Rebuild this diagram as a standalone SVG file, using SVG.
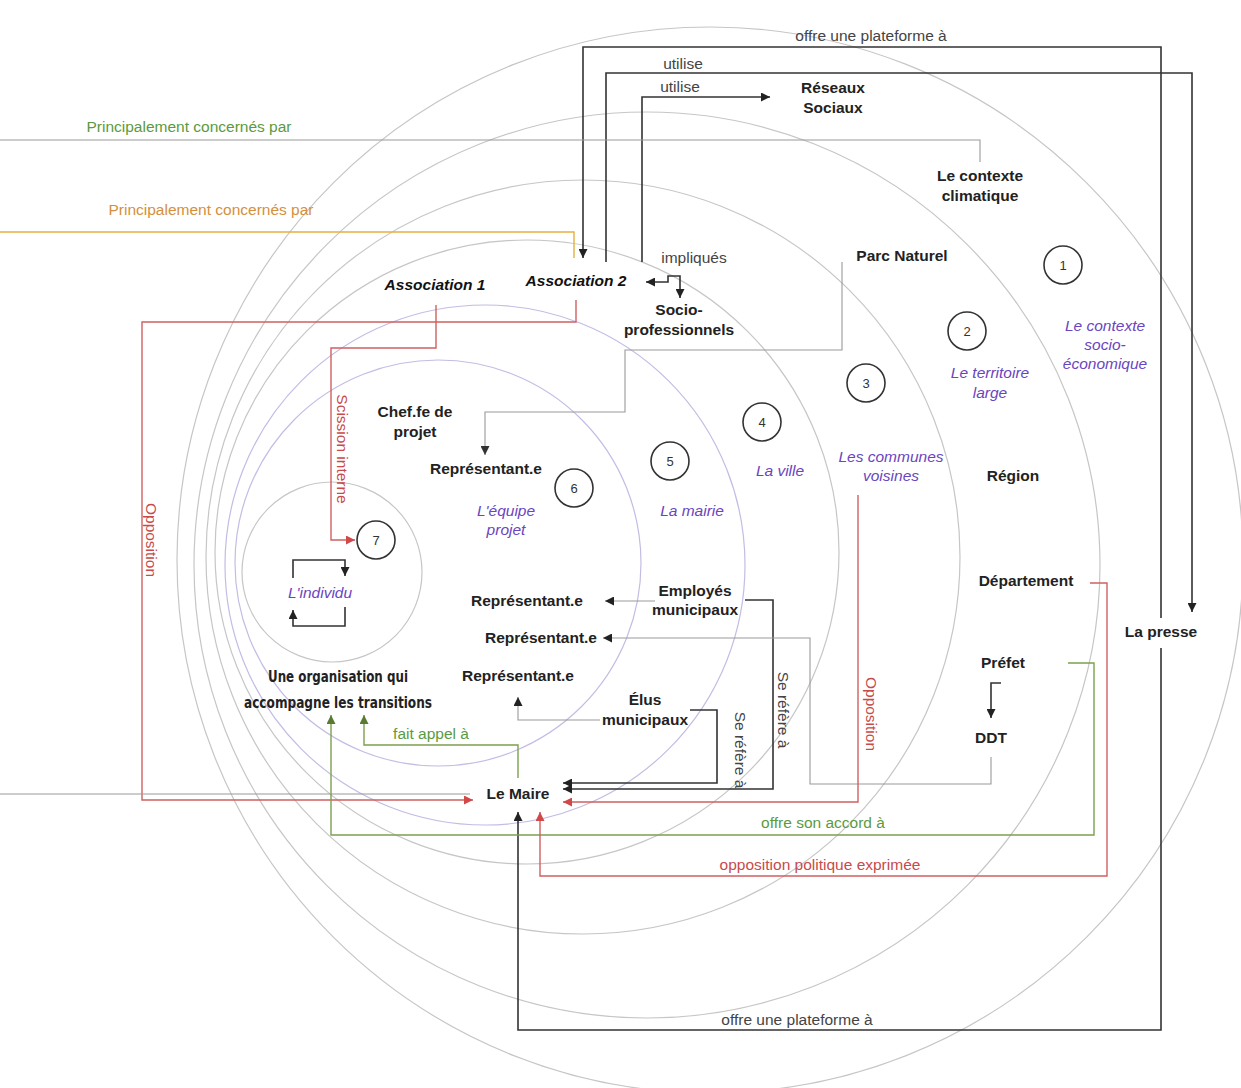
<svg xmlns="http://www.w3.org/2000/svg" width="1241" height="1088" viewBox="0 0 1241 1088">
<style>
  .ring{fill:none;stroke:#c6c6c6;stroke-width:1.2}
  .ringl{fill:none;stroke:#c4bce4;stroke-width:1.2}
  .num{fill:none;stroke:#333;stroke-width:1.6}
  .numt{font-family:"Liberation Sans",Arial,sans-serif;font-size:13px;fill:#333;text-anchor:middle}
  .node{font-family:"Liberation Sans",Arial,sans-serif;font-size:15.5px;font-weight:bold;fill:#222;text-anchor:middle}
  .asso{font-family:"Liberation Sans",Arial,sans-serif;font-size:15.5px;font-weight:bold;font-style:italic;fill:#111;text-anchor:middle}
  .ring-lbl{font-family:"Liberation Sans",Arial,sans-serif;font-size:15.5px;font-style:italic;fill:#6a45c0;text-anchor:middle}
  .lbl{font-family:"Liberation Sans",Arial,sans-serif;font-size:15.5px;fill:#444;text-anchor:middle}
  .lred{fill:#c84a4a}
  .lgreen{fill:#5b9a3e}
  .lorange{fill:#d4903c}
  .cond{font-family:"DejaVu Sans",sans-serif;font-size:15px;font-weight:bold;fill:#222;text-anchor:middle}
  .dark{fill:none;stroke:#333;stroke-width:1.6}
  .grey{fill:none;stroke:#9a9a9a;stroke-width:1.1}
  .red{fill:none;stroke:#d06060;stroke-width:1.4}
  .green{fill:none;stroke:#7da050;stroke-width:1.4}
  .orange{fill:none;stroke:#e6b040;stroke-width:1.4}
</style>
<defs>
  <marker id="ad" viewBox="0 0 10 10" refX="10" refY="5" markerWidth="9" markerHeight="9" markerUnits="userSpaceOnUse" orient="auto-start-reverse"><path d="M0,0 L10,5 L0,10 z" fill="#222"/></marker>
  <marker id="ag" viewBox="0 0 10 10" refX="10" refY="5" markerWidth="9" markerHeight="9" markerUnits="userSpaceOnUse" orient="auto"><path d="M0,0 L10,5 L0,10 z" fill="#333"/></marker>
  <marker id="ar" viewBox="0 0 10 10" refX="10" refY="5" markerWidth="9" markerHeight="9" markerUnits="userSpaceOnUse" orient="auto"><path d="M0,0 L10,5 L0,10 z" fill="#d04848"/></marker>
  <marker id="agr" viewBox="0 0 10 10" refX="10" refY="5" markerWidth="9" markerHeight="9" markerUnits="userSpaceOnUse" orient="auto"><path d="M0,0 L10,5 L0,10 z" fill="#5a7a30"/></marker>
</defs>
<rect width="1241" height="1088" fill="#ffffff"/>

<g id="rings">
  <circle class="ring" cx="710" cy="560" r="533"/>
  <circle class="ring" cx="647" cy="565" r="453"/>
  <circle class="ring" cx="583" cy="557" r="377"/>
  <circle class="ring" cx="527" cy="552" r="312"/>
  <circle class="ringl" cx="485" cy="565" r="260"/>
  <circle class="ringl" cx="438" cy="563" r="203"/>
  <circle class="ring" cx="332" cy="572" r="90"/>
</g>

<g id="connectors">
  <path class="dark" d="M1161,618 V47 H583 V258" marker-end="url(#ad)"/>
  <path class="dark" d="M1161,648 V1030 H518 V812" marker-end="url(#ad)"/>
  <path class="dark" d="M606,262 V73 H1192 V612" marker-end="url(#ad)"/>
  <path class="dark" d="M642,262 V97 H770" marker-end="url(#ad)"/>
  <path class="grey" d="M0,140 H980 V162"/>
  <path class="orange" d="M0,232 H574 V258"/>
  <path class="dark" d="M646,282 H668 V276 H680 V298" marker-start="url(#ad)" marker-end="url(#ad)"/>
  <path class="grey" d="M842,262 V350 H625 V412 H485 V455" marker-end="url(#ag)"/>
  <path class="red" d="M576,300 V322 H142 V800 H473" marker-end="url(#ar)"/>
  <path class="red" d="M436,305 V348 H331 V540 H355" marker-end="url(#ar)"/>
  <path class="grey" d="M0,794 H470"/>
  <path class="grey" d="M655,601 H605" marker-end="url(#ad)"/>
  <path class="dark" d="M745,600 H773 V789 H563" marker-end="url(#ad)"/>
  <path class="grey" d="M991,757 V784 H810 V638 H603" marker-end="url(#ad)"/>
  <path class="grey" d="M600,720 H518 V697" marker-end="url(#ad)"/>
  <path class="dark" d="M690,710 H717 V783 H563" marker-end="url(#ad)"/>
  <path class="red" d="M858,495 V802 H563" marker-end="url(#ar)"/>
  <path class="green" d="M518,778 V745 H364 V715" marker-end="url(#agr)"/>
  <path class="green" d="M1068,663 H1094 V835 H331 V715" marker-end="url(#agr)"/>
  <path class="red" d="M1090,583 H1107 V876 H540 V812" marker-end="url(#ar)"/>
  <path class="dark" d="M1001,683 H991 V718" marker-end="url(#ad)"/>
  <path class="dark" d="M293,578 V560 H345 V576" marker-end="url(#ad)"/>
  <path class="dark" d="M345,607 V626 H293 V610" marker-end="url(#ad)"/>

  <text class="lbl" x="871" y="41">offre une plateforme à</text>
  <text class="lbl" x="683" y="69">utilise</text>
  <text class="lbl" x="680" y="92">utilise</text>
  <text class="lbl lgreen" x="189" y="132">Principalement concernés par</text>
  <text class="lbl lorange" x="211" y="215">Principalement concernés par</text>
  <text class="lbl" x="694" y="263">impliqués</text>
  <text class="lbl lred" transform="translate(337,449) rotate(90)">Scission interne</text>
  <text class="lbl lred" transform="translate(146,540) rotate(90)">Opposition</text>
  <text class="lbl lred" transform="translate(866,714) rotate(90)">Opposition</text>
  <text class="lbl" transform="translate(778,710) rotate(90)">Se réfère à</text>
  <text class="lbl" transform="translate(735,750) rotate(90)">Se réfère à</text>
  <text class="lbl lgreen" x="431" y="739">fait appel à</text>
  <text class="lbl lgreen" x="823" y="828">offre son accord à</text>
  <text class="lbl lred" x="820" y="870">opposition politique exprimée</text>
  <text class="lbl" x="797" y="1025">offre une plateforme à</text>
</g>

<g id="markers">
  <g id="m1"><circle class="num" cx="1063" cy="265" r="19"/><text class="numt" x="1063" y="270">1</text></g>
  <g id="m2"><circle class="num" cx="967" cy="331" r="19"/><text class="numt" x="967" y="336">2</text></g>
  <g id="m3"><circle class="num" cx="866" cy="383" r="19"/><text class="numt" x="866" y="388">3</text></g>
  <g id="m4"><circle class="num" cx="762" cy="422" r="19"/><text class="numt" x="762" y="427">4</text></g>
  <g id="m5"><circle class="num" cx="670" cy="461" r="19"/><text class="numt" x="670" y="466">5</text></g>
  <g id="m6"><circle class="num" cx="574" cy="488" r="19"/><text class="numt" x="574" y="493">6</text></g>
  <g id="m7"><circle class="num" cx="376" cy="540" r="19"/><text class="numt" x="376" y="545">7</text></g>
</g>

<g id="ring-labels">
  <text class="ring-lbl" x="1105" y="331">Le contexte</text>
  <text class="ring-lbl" x="1105" y="350">socio-</text>
  <text class="ring-lbl" x="1105" y="369">économique</text>
  <text class="ring-lbl" x="990" y="378">Le territoire</text>
  <text class="ring-lbl" x="990" y="398">large</text>
  <text class="ring-lbl" x="891" y="462">Les communes</text>
  <text class="ring-lbl" x="891" y="481">voisines</text>
  <text class="ring-lbl" x="780" y="476">La ville</text>
  <text class="ring-lbl" x="692" y="516">La mairie</text>
  <text class="ring-lbl" x="506" y="516">L'équipe</text>
  <text class="ring-lbl" x="506" y="535">projet</text>
  <text class="ring-lbl" x="320" y="598">L'individu</text>
</g>

<g id="n-reseaux"><text class="node" x="833" y="93">Réseaux</text><text class="node" x="833" y="113">Sociaux</text></g>
<g id="n-climat"><text class="node" x="980" y="181">Le contexte</text><text class="node" x="980" y="201">climatique</text></g>
<g id="n-parc"><text class="node" x="902" y="261">Parc Naturel</text></g>
<g id="n-asso1"><text class="asso" x="435" y="290">Association 1</text></g>
<g id="n-asso2"><text class="asso" x="576" y="286">Association 2</text></g>
<g id="n-socio"><text class="node" x="679" y="315">Socio-</text><text class="node" x="679" y="335">professionnels</text></g>
<g id="n-region"><text class="node" x="1013" y="481">Région</text></g>
<g id="n-dept"><text class="node" x="1026" y="586">Département</text></g>
<g id="n-prefet"><text class="node" x="1003" y="668">Préfet</text></g>
<g id="n-ddt"><text class="node" x="991" y="743">DDT</text></g>
<g id="n-presse"><text class="node" x="1161" y="637">La presse</text></g>
<g id="n-chef"><text class="node" x="415" y="417">Chef.fe de</text><text class="node" x="415" y="437">projet</text></g>
<g id="n-rep1"><text class="node" x="486" y="474">Représentant.e</text></g>
<g id="n-rep2"><text class="node" x="527" y="606">Représentant.e</text></g>
<g id="n-rep3"><text class="node" x="541" y="643">Représentant.e</text></g>
<g id="n-rep4"><text class="node" x="518" y="681">Représentant.e</text></g>
<g id="n-employes"><text class="node" x="695" y="596">Employés</text><text class="node" x="695" y="615">municipaux</text></g>
<g id="n-elus"><text class="node" x="645" y="705">Élus</text><text class="node" x="645" y="725">municipaux</text></g>
<g id="n-orga"><text class="cond" x="338" y="682" textLength="140" lengthAdjust="spacingAndGlyphs">Une organisation qui</text><text class="cond" x="338" y="708" textLength="188" lengthAdjust="spacingAndGlyphs">accompagne les transitions</text></g>
<g id="n-maire"><text class="node" x="518" y="799">Le Maire</text></g>
</svg>
